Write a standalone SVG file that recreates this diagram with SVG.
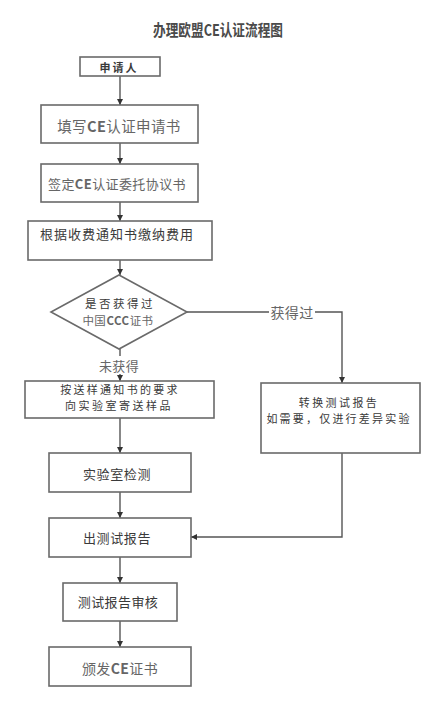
<svg xmlns="http://www.w3.org/2000/svg" width="444" height="714" viewBox="0 0 444 714">
<style>
.box{fill:#fff;stroke:#6a6a6a;stroke-width:1.6}
.t{font-family:"Noto Sans CJK SC","Liberation Sans",sans-serif;font-size:13px;fill:#3a3a3a;text-anchor:middle;dominant-baseline:central;letter-spacing:0.4px}
.s{font-size:11px;letter-spacing:2.2px}
.lt{fill:#666}
.ln{fill:none;stroke:#555;stroke-width:1.4}
</style>
<defs>
<marker id="ah" viewBox="0 0 10 10" refX="10" refY="5" markerWidth="6" markerHeight="6" orient="auto" markerUnits="userSpaceOnUse">
<path d="M0,0 L10,5 L0,10 z" fill="#333"/>
</marker>
</defs>
<rect width="444" height="714" fill="#fff"/>
<text x="218" y="29" class="t" style="font-size:16px;fill:#4a4a4a;letter-spacing:0;font-weight:bold" textLength="130" lengthAdjust="spacingAndGlyphs">办理欧盟CE认证流程图</text>

<g id="connectors">
<line class="ln" x1="120" y1="76" x2="120" y2="105" marker-end="url(#ah)"/>
<line class="ln" x1="120" y1="143" x2="120" y2="164" marker-end="url(#ah)"/>
<line class="ln" x1="120" y1="202" x2="120" y2="221" marker-end="url(#ah)"/>
<line class="ln" x1="120" y1="260" x2="120" y2="275" marker-end="url(#ah)"/>
<line class="ln" x1="120" y1="349" x2="120" y2="381" marker-end="url(#ah)"/>
<polyline class="ln" points="187,312 342,312 342,383" marker-end="url(#ah)"/>
<line class="ln" x1="120" y1="418" x2="120" y2="453" marker-end="url(#ah)"/>
<line class="ln" x1="120" y1="492" x2="120" y2="518" marker-end="url(#ah)"/>
<polyline class="ln" points="342,453 342,537 191,537" marker-end="url(#ah)"/>
<line class="ln" x1="120" y1="557" x2="120" y2="583" marker-end="url(#ah)"/>
<line class="ln" x1="120" y1="621" x2="120" y2="647" marker-end="url(#ah)"/>
<rect x="269" y="303" width="46" height="18" fill="#fff"/>
<text x="292" y="312" class="t lt" style="font-size:14px">获得过</text>
<rect x="98" y="356" width="42" height="18" fill="#fff"/>
<text x="119" y="365" class="t lt">未获得</text>
</g>

<g id="n1"><rect class="box" x="80" y="57" width="80" height="19"/><text x="119" y="66.5" class="t" style="font-size:11px;letter-spacing:2px;font-weight:bold">申请人</text></g>
<g id="n2"><rect class="box" x="41" y="105" width="157" height="38"/><text x="119" y="125" class="t lt" style="font-size:14.5px">填写<tspan font-weight="bold">CE</tspan>认证申请书</text></g>
<g id="n3"><rect class="box" x="41" y="164" width="157" height="38"/><text x="117" y="183" class="t lt" style="font-size:13px">签定<tspan font-weight="bold">CE</tspan>认证委托协议书</text></g>
<g id="n4"><rect class="box" x="28" y="221" width="184" height="39"/><text x="117" y="233" class="t" style="letter-spacing:1px">根据收费通知书缴纳费用</text></g>
<g id="n5"><polygon class="box" points="119,275 187,312 119,349 51,312"/><text x="120" y="303" class="t" style="font-size:11.5px;letter-spacing:2.5px">是否获得过</text><text x="118" y="320" class="t lt" style="font-size:11.5px;letter-spacing:0.5px">中国<tspan font-weight="bold">CCC</tspan>证书</text></g>
<g id="n6"><rect class="box" x="25" y="381" width="189" height="37"/><text x="120" y="389" class="t s" style="letter-spacing:2.3px">按送样通知书的要求</text><text x="119" y="405" class="t s" style="letter-spacing:2.5px">向实验室寄送样品</text></g>
<g id="n7"><rect class="box" x="261" y="383" width="159" height="70"/><text x="339" y="402" class="t s" style="letter-spacing:2.4px">转换测试报告</text><text x="339" y="418" class="t s">如需要，仅进行差异实验</text></g>
<g id="n8"><rect class="box" x="49" y="453" width="142" height="39"/><text x="117" y="473" class="t" style="letter-spacing:0.6px">实验室检测</text></g>
<g id="n9"><rect class="box" x="49" y="518" width="142" height="39"/><text x="117" y="537" class="t" style="letter-spacing:0.6px">出测试报告</text></g>
<g id="n10"><rect class="box" x="63" y="583" width="114" height="38"/><text x="118" y="601" class="t">测试报告审核</text></g>
<g id="n11"><rect class="box" x="49" y="647" width="142" height="39"/><text x="120" y="668" class="t lt" style="font-size:14px">颁发<tspan font-weight="bold">CE</tspan>证书</text></g>
</svg>
